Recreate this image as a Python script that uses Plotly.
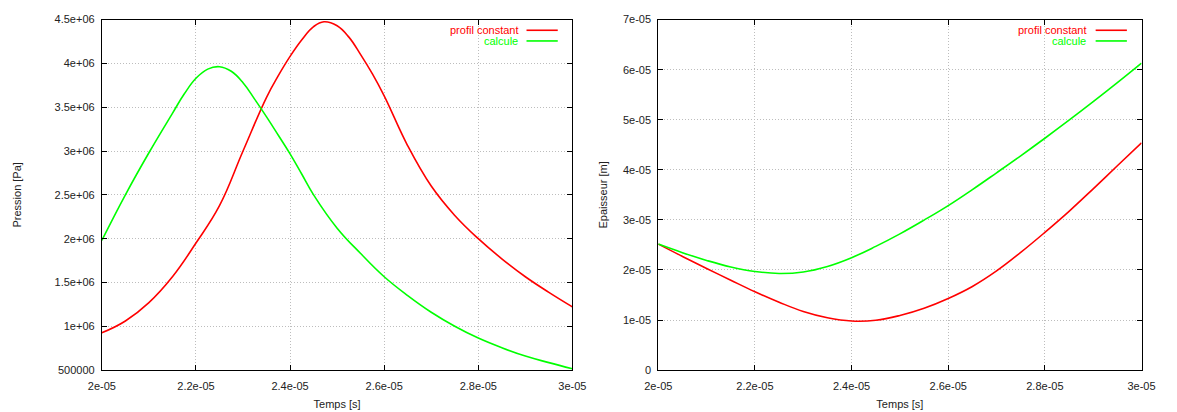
import plotly.graph_objects as go

# ---------------- data ----------------
# Times in microseconds (converted to seconds when plotted)
# Left panel: Pression [Pa]
pression_t_red_us = [20.0, 20.5, 21.0, 21.5, 22.0, 22.5, 23.0, 23.5, 23.75, 24.0, 24.25, 24.5,
                     24.72, 25.0, 25.25, 25.5, 25.75, 26.0, 26.5, 27.0, 27.5, 28.0, 28.5, 29.0,
                     29.5, 30.0]
pression_profil_constant = [0.925e6, 1.06e6, 1.27e6, 1.565e6, 1.95e6, 2.376e6, 3.0e6, 3.613e6,
                            3.86e6, 4.08e6, 4.27e6, 4.42e6, 4.475e6, 4.43e6, 4.30e6, 4.10e6,
                            3.88e6, 3.63e6, 3.06e6, 2.6e6, 2.265e6, 2.0e6, 1.77e6, 1.565e6,
                            1.387e6, 1.221e6]

pression_t_green_us = [20.0, 20.5, 21.0, 21.5, 21.75, 22.0, 22.25, 22.5, 22.75, 23.0, 23.25,
                       23.5, 23.75, 24.0, 24.25, 24.5, 25.0, 25.5, 26.0, 26.5, 27.0, 27.5,
                       28.0, 28.5, 29.0, 29.5, 30.0]
pression_calcule = [1.98e6, 2.5e6, 2.98e6, 3.43e6, 3.65e6, 3.83e6, 3.935e6, 3.962e6, 3.91e6,
                    3.78e6, 3.59e6, 3.39e6, 3.18e6, 2.967e6, 2.735e6, 2.5e6, 2.12e6, 1.83e6,
                    1.565e6, 1.35e6, 1.16e6, 1.0e6, 0.865e6, 0.755e6, 0.66e6, 0.585e6, 0.515e6]

# Right panel: Epaisseur [m]
epaisseur_t_us = [20.0, 20.5, 21.0, 21.5, 22.0, 22.5, 23.0, 23.5, 24.0, 24.5, 25.0,
                  25.5, 26.0, 26.5, 27.0, 27.5, 28.0, 28.5, 29.0, 29.5, 30.0]
epaisseur_profil_constant = [2.516e-5, 2.27e-5, 2.03e-5, 1.795e-5, 1.565e-5, 1.355e-5, 1.17e-5,
                             1.045e-5, 0.98e-5, 0.995e-5, 1.09e-5, 1.235e-5, 1.43e-5, 1.67e-5,
                             1.98e-5, 2.35e-5, 2.75e-5, 3.17e-5, 3.62e-5, 4.08e-5, 4.54e-5]
epaisseur_calcule = [2.516e-5, 2.345e-5, 2.19e-5, 2.06e-5, 1.97e-5, 1.93e-5, 1.96e-5,
                     2.07e-5, 2.245e-5, 2.47e-5, 2.72e-5, 2.995e-5, 3.285e-5, 3.605e-5,
                     3.94e-5, 4.28e-5, 4.63e-5, 4.99e-5, 5.36e-5, 5.74e-5, 6.13e-5]

series_names = ["profil constant", "calcule"]
series_colors = ["#ff0000", "#00ff00"]

x_tickvals = [2.0e-5, 2.2e-5, 2.4e-5, 2.6e-5, 2.8e-5, 3.0e-5]
x_ticktext = ["2e-05", "2.2e-05", "2.4e-05", "2.6e-05", "2.8e-05", "3e-05"]
p_tickvals = [0.5e6, 1.0e6, 1.5e6, 2.0e6, 2.5e6, 3.0e6, 3.5e6, 4.0e6, 4.5e6]
p_ticktext = ["500000", "1e+06", "1.5e+06", "2e+06", "2.5e+06", "3e+06", "3.5e+06", "4e+06", "4.5e+06"]
e_tickvals = [0, 1e-5, 2e-5, 3e-5, 4e-5, 5e-5, 6e-5, 7e-5]
e_ticktext = ["0", "1e-05", "2e-05", "3e-05", "4e-05", "5e-05", "6e-05", "7e-05"]

# ---------------- figure ----------------
W, H = 1177, 412
FONT = "Liberation Sans, Arial, sans-serif"
TXT = "#222222"


def sec(lst):
    return [v * 1e-6 for v in lst]


fig = go.Figure()
line_kw = dict(width=1.6, shape="spline", smoothing=1.2)
fig.add_trace(go.Scatter(x=sec(pression_t_red_us), y=pression_profil_constant, mode="lines",
                         name=series_names[0], line=dict(color=series_colors[0], **line_kw),
                         xaxis="x", yaxis="y"))
fig.add_trace(go.Scatter(x=sec(pression_t_green_us), y=pression_calcule, mode="lines",
                         name=series_names[1], line=dict(color=series_colors[1], **line_kw),
                         xaxis="x", yaxis="y"))
fig.add_trace(go.Scatter(x=sec(epaisseur_t_us), y=epaisseur_profil_constant, mode="lines",
                         name=series_names[0], line=dict(color=series_colors[0], **line_kw),
                         xaxis="x2", yaxis="y2"))
fig.add_trace(go.Scatter(x=sec(epaisseur_t_us), y=epaisseur_calcule, mode="lines",
                         name=series_names[1], line=dict(color=series_colors[1], **line_kw),
                         xaxis="x2", yaxis="y2"))


def px_x(p):
    return p / W


def px_y(p):
    return 1 - p / H


ydom = [px_y(375), px_y(14)]

axis_common = dict(
    showline=True, linecolor="#000000", linewidth=1, mirror="ticks",
    ticks="inside", ticklen=5, tickcolor="#000000", tickwidth=1,
    showgrid=True, gridcolor="#bdbdbd", gridwidth=1, griddash="1px,2px",
    zeroline=False, tickfont=dict(family=FONT, size=11, color=TXT),
    title_font=dict(family=FONT, size=11, color=TXT),
)

fig.update_layout(
    width=W, height=H,
    margin=dict(l=0, r=0, t=0, b=0),
    paper_bgcolor="white", plot_bgcolor="white",
    showlegend=False,
    xaxis=dict(domain=[px_x(90), px_x(572)], range=[2e-5, 3e-5], anchor="y",
               tickvals=x_tickvals, ticktext=x_ticktext, ticklabelstandoff=6,
               title=dict(text="Temps [s]", standoff=9), **axis_common),
    yaxis=dict(domain=ydom, range=[0.5e6, 4.5e6], anchor="x",
               tickvals=p_tickvals, ticktext=p_ticktext, ticklabelstandoff=4,
               title=dict(text="Pression [Pa]", standoff=30), **axis_common),
    xaxis2=dict(domain=[px_x(660), px_x(1155)], range=[2e-5, 3e-5], anchor="y2",
                tickvals=x_tickvals, ticktext=x_ticktext, ticklabelstandoff=6,
                title=dict(text="Temps [s]", standoff=9), **axis_common),
    yaxis2=dict(domain=ydom, range=[0, 7e-5], anchor="x2",
                tickvals=e_tickvals, ticktext=e_ticktext, ticklabelstandoff=4,
                title=dict(text="Epaisseur [m]", standoff=13), **axis_common),
)

# gnuplot-style key: right-aligned text followed by a line sample
keys = [
    # (text right edge px, line start px, line end px)
    (518, 525, 557),
    (1100, 1108, 1140),
]
rows_y = [25, 36]
for (tx, l0, l1) in keys:
    for name, color, yy in zip(series_names, series_colors, rows_y):
        fig.add_annotation(x=px_x(tx), y=px_y(yy), xref="paper", yref="paper",
                           text=name, showarrow=False, xanchor="right", yanchor="middle",
                           font=dict(family=FONT, size=11, color=color))
        fig.add_shape(type="line", xref="paper", yref="paper",
                      x0=px_x(l0), x1=px_x(l1), y0=px_y(yy), y1=px_y(yy),
                      line=dict(color=color, width=1.6))

fig.write_html("out.html", config={"displayModeBar": False},
               post_script="document.body.style.margin='0';document.body.style.overflow='hidden';")
